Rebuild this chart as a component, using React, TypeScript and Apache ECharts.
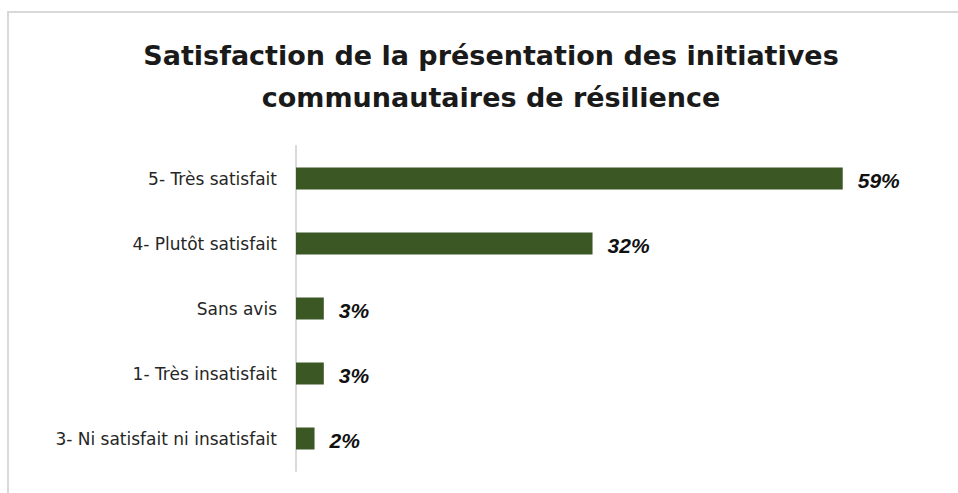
import React, { useEffect, useRef } from "react";
import * as echarts from "echarts";

const categories = [
  "3- Ni satisfait ni insatisfait",
  "1- Très insatisfait",
  "Sans avis",
  "4- Plutôt satisfait",
  "5- Très satisfait",
];
const values = [2, 3, 3, 32, 59];
const titleLines = [
  "Satisfaction de la présentation des initiatives",
  "communautaires de résilience",
];

export default function App() {
  const ref = useRef<HTMLDivElement>(null);
  useEffect(() => {
    if (!ref.current) return;
    const chart = echarts.init(ref.current, undefined, { renderer: "svg" });
    chart.setOption({
      animation: false,
      backgroundColor: "#ffffff",
      title: {
        text: titleLines.join("\n"),
        left: 486,
        textAlign: "center",
        top: 29,
        textStyle: {
          fontFamily: "DejaVu Sans",
          fontWeight: "bold",
          fontSize: 27,
          lineHeight: 42,
          color: "#1a1a1a",
        },
      },
      graphic: [
        {
          type: "rect",
          shape: { x: 8, y: 12, width: 1000, height: 600 },
          style: { fill: "none", stroke: "#d9d9d9", lineWidth: 2 },
          silent: true,
        },
      ],
      grid: { left: 296, top: 146, width: 556, height: 325, containLabel: false },
      xAxis: {
        type: "value",
        min: 0,
        max: 60,
        show: false,
      },
      yAxis: {
        type: "category",
        data: categories,
        axisLine: { show: true, lineStyle: { color: "#d9d9d9", width: 2 } },
        axisTick: { show: false },
        axisLabel: {
          margin: 19,
          fontFamily: "DejaVu Sans",
          fontSize: 17,
          color: "#262626",
        },
      },
      series: [
        {
          type: "bar",
          data: values,
          barWidth: 22,
          itemStyle: { color: "#3a5724" },
          label: {
            show: true,
            position: "right",
            distance: 15,
            offset: [0, 2],
            formatter: "{c}%",
            fontFamily: "Liberation Sans",
            fontStyle: "italic",
            fontWeight: "bold",
            fontSize: 21,
            color: "#111111",
          },
        },
      ],
    });
    return () => chart.dispose();
  }, []);
  return (
    <div
      ref={ref}
      style={{ position: "fixed", left: 0, top: 0, width: 958, height: 493 }}
    />
  );
}
